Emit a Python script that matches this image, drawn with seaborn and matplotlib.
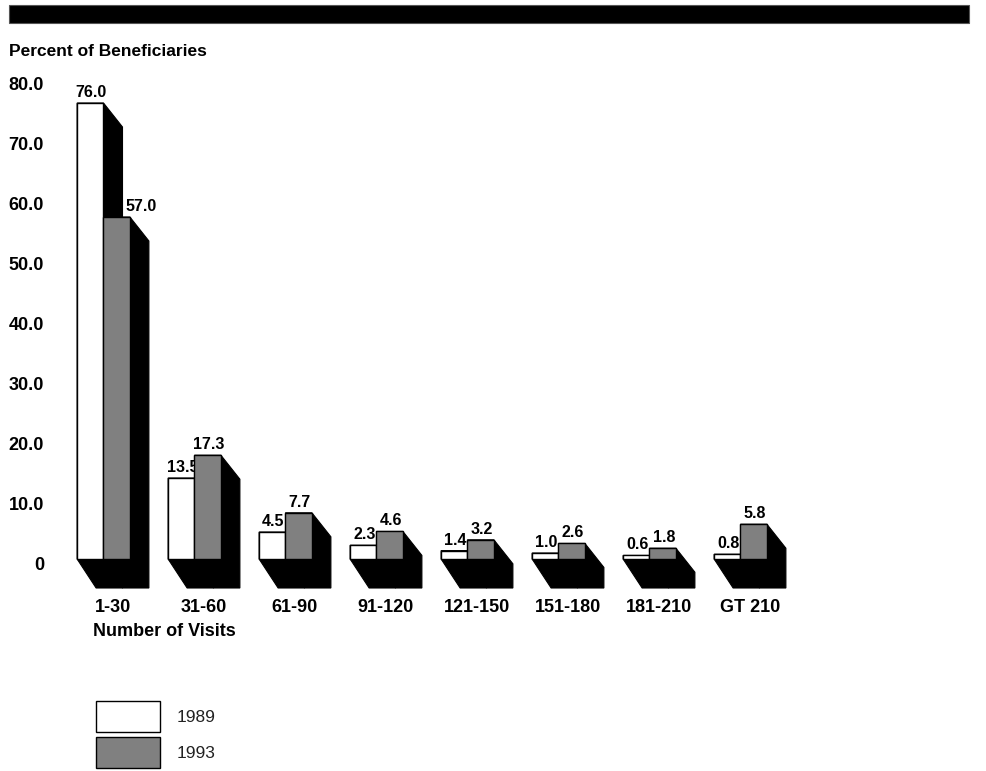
import numpy as np
import pandas as pd
import matplotlib
matplotlib.use("Agg")
import matplotlib.pyplot as plt
import matplotlib.transforms as mtransforms
from matplotlib.patches import Polygon, Rectangle
import seaborn as sns

# data
visits = ["1-30", "31-60", "61-90", "91-120", "121-150", "151-180", "181-210", "GT 210"]
pct_1989 = [76.0, 13.5, 4.5, 2.3, 1.4, 1.0, 0.6, 0.8]
pct_1993 = [57.0, 17.3, 7.7, 4.6, 3.2, 2.6, 1.8, 5.8]
years = ["1989", "1993"]
yticks = [0, 10, 20, 30, 40, 50, 60, 70, 80]
ytick_labels = ["0", "10.0", "20.0", "30.0", "40.0", "50.0", "60.0", "70.0", "80.0"]

df = pd.DataFrame({
    "visits": visits * 2,
    "pct": pct_1989 + pct_1993,
    "year": [years[0]] * len(visits) + [years[1]] * len(visits),
})

sns.set_theme(style="white")
plt.rcParams["font.family"] = ["Liberation Sans", "DejaVu Sans"]
plt.rcParams["text.color"] = "black"
plt.rcParams["xtick.color"] = "black"
plt.rcParams["ytick.color"] = "black"

W, H = 987, 771
fig = plt.figure(figsize=(W / 100, H / 100), dpi=100)

# axes placed in pixel terms
ax_left, ax_right, ax_top, ax_bot = 60, 960, 60, 590
ax = fig.add_axes([ax_left / W, 1 - ax_bot / H, (ax_right - ax_left) / W, (ax_bot - ax_top) / H])

sns.barplot(data=df, x="visits", y="pct", hue="year", order=visits, hue_order=years,
            palette=["white", "#808080"], edgecolor="black", linewidth=1.0,
            width=0.58, dodge=True, legend=False, saturation=1, ax=ax)

# scale: 91 px per category, 6 px per percent, baseline at y=559 px
px_cat, px_unit, base_px, c0_px = 91.0, 6.0, 559.0, 103.5
ax.set_xlim((ax_left - c0_px) / px_cat, (ax_right - c0_px) / px_cat)
ax.set_ylim((base_px - ax_bot) / px_unit, (base_px - ax_top) / px_unit)

# 3d shadow offsets
dx = 19 / px_cat
dy_top = 24 / px_unit
dy_bot = 29 / px_unit

label_shift = {(1, 0): 23 / px_cat}

for hi, cont in enumerate(ax.containers):
    for ci, bar in enumerate(cont):
        x0 = bar.get_x()
        w = bar.get_width()
        h = bar.get_height()
        pts = [(x0, h), (x0 + w, h), (x0 + w + dx, h - dy_top),
               (x0 + w + dx, -dy_bot), (x0 + dx, -dy_bot), (x0, 0)]
        ax.add_patch(Polygon(pts, closed=True, facecolor="black", edgecolor="black",
                             linewidth=0.8, zorder=1))
        bar.set_zorder(3)
        ax.text(x0 + w / 2 + 1 / px_cat + label_shift.get((hi, ci), 0), h + 3 / px_unit,
                f"{h:.1f}", ha="center", va="bottom", fontsize=11.5, fontweight="bold",
                zorder=2.5)

ax.set_xticks(np.arange(len(visits)) + dx / 2)
ax.set_xticklabels(visits, fontsize=13, fontweight="bold")
ax.set_yticks(yticks)
ax.set_yticklabels(ytick_labels, fontsize=13, fontweight="bold")
ax.tick_params(axis="x", length=0, pad=6.5)
ax.tick_params(axis="y", length=0, pad=11.5)
off = mtransforms.ScaledTranslation(0, -4 / 100, fig.dpi_scale_trans)
for lab in ax.get_yticklabels():
    lab.set_transform(lab.get_transform() + off)
ax.set_xlabel("")
ax.set_ylabel("")
for s in ax.spines.values():
    s.set_visible(False)
ax.set_facecolor("white")

# black band on top
fig.patches.append(Rectangle((9 / W, 1 - 23 / H), (969 - 9) / W, 18 / H,
                             transform=fig.transFigure, facecolor="black",
                             edgecolor="#555555", linewidth=0.8))

fig.text(9 / W, 1 - 51 / H, "Percent of Beneficiaries", fontsize=12.5,
         fontweight="bold", ha="left", va="center")
fig.text(93 / W, 1 - 632 / H, "Number of Visits", fontsize=13,
         fontweight="bold", ha="left", va="center")

# legend boxes
leg_colors = ["white", "#808080"]
leg_tops = [701, 737]
for yr, col, top in zip(years, leg_colors, leg_tops):
    fig.patches.append(Rectangle((96 / W, 1 - (top + 31) / H), 64 / W, 31 / H,
                                 transform=fig.transFigure, facecolor=col,
                                 edgecolor="black", linewidth=1.0))
    fig.text(177 / W, 1 - (top + 16) / H, yr, fontsize=12.5, ha="left", va="center",
             color="#222222")

fig.savefig("out.png", dpi=100, facecolor="white")
